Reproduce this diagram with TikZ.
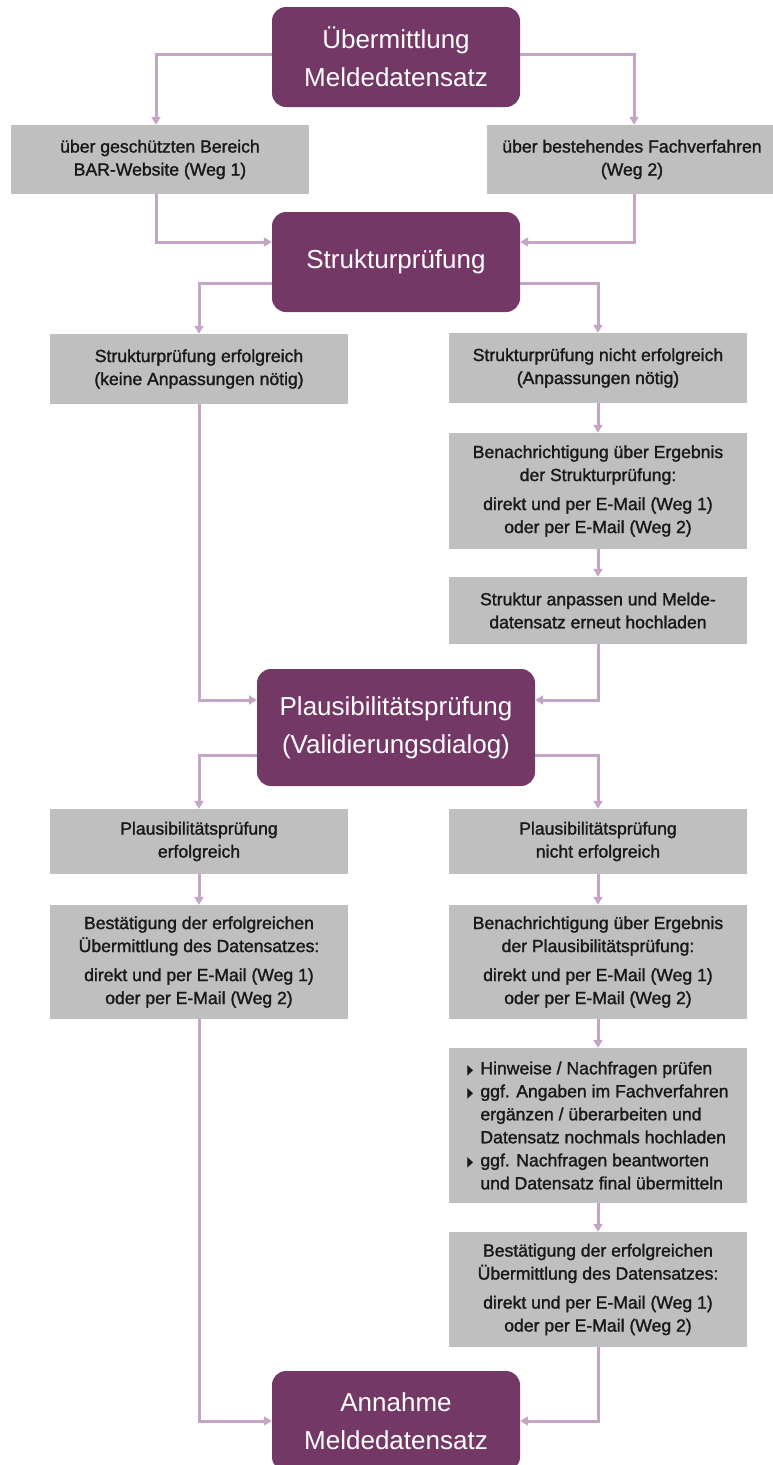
\documentclass[tikz,border=0pt]{standalone}
\usepackage{fontspec}
\usepackage{graphicx}
\setmainfont{Liberation Sans}
\newfontfamily\medf{Liberation Sans}[FakeBold=1.5]
\newfontfamily\symf{DejaVu Sans}
\usetikzlibrary{arrows.meta,calc}
\definecolor{purp}{RGB}{116,56,102}
\definecolor{grayb}{RGB}{191,191,191}
\definecolor{lineC}{RGB}{196,166,196}
\newcommand{\tri}{\makebox[13pt][l]{\scalebox{0.55}[1]{\symf\fontsize{14}{10}\selectfont ▶}}}
\newcommand{\ind}{\hspace*{13pt}}
\tikzset{
  pbox/.style={fill=purp, rounded corners=14pt, text=white, align=center, inner sep=0pt,
    font=\fontsize{26}{38}\selectfont, minimum width=248pt, minimum height=100pt},
  gbox/.style={fill=grayb, text=black!90, align=center, inner sep=0pt,
    font=\medf\fontsize{17.6}{23}\selectfont, minimum width=298pt},
  conn/.style={draw=lineC, line width=3pt, -{Triangle[length=8pt,width=9pt]}}
}
\begin{document}
\begin{tikzpicture}[x=1pt,y=-1pt]
\useasboundingbox (0,0) rectangle (773,1465);
\clip (0,0) rectangle (773,1465);
% purple nodes
\node[pbox] (top) at (396,57) {Übermittlung\\Meldedatensatz};
\node[pbox] (struk) at (396,262) {Strukturprüfung};
\node[pbox, minimum width=278pt, minimum height=117pt] (plaus) at (396,727.5) {Plausibilitätsprüfung\\(Validierungsdialog)};
\node[pbox, minimum height=100pt] (final) at (396,1421) {Annahme\\Meldedatensatz};
% gray nodes
\node[gbox, minimum height=69pt] (b1) at (160,159.5) {über geschützten Bereich\\BAR-Website (Weg 1)};
\node[gbox, minimum width=290pt, minimum height=69pt] (b2) at (632,159.5) {über bestehendes Fachverfahren\\(Weg 2)};
\node[gbox, minimum height=70pt] (sl) at (199,369) {Strukturprüfung erfolgreich\\(keine Anpassungen nötig)};
\node[gbox, minimum height=70pt] (sr) at (598,368) {Strukturprüfung nicht erfolgreich\\(Anpassungen nötig)};
\node[gbox, minimum height=116pt] (bn1) at (598,491) {Benachrichtigung über Ergebnis\\der Strukturprüfung:\\[6pt]direkt und per E-Mail (Weg 1)\\oder per E-Mail (Weg 2)};
\node[gbox, minimum height=67pt] (sa) at (598,610.5) {Struktur anpassen und Melde-\\datensatz erneut hochladen};
\node[gbox, minimum height=65pt] (pl) at (199,841.5) {Plausibilitätsprüfung\\erfolgreich};
\node[gbox, minimum height=65pt] (pr) at (598,841.5) {Plausibilitätsprüfung\\nicht erfolgreich};
\node[gbox, minimum height=114pt] (bl) at (199,962) {Bestätigung der erfolgreichen\\Übermittlung des Datensatzes:\\[6pt]direkt und per E-Mail (Weg 1)\\oder per E-Mail (Weg 2)};
\node[gbox, minimum height=114pt] (bn2) at (598,962) {Benachrichtigung über Ergebnis\\der Plausibilitätsprüfung:\\[6pt]direkt und per E-Mail (Weg 1)\\oder per E-Mail (Weg 2)};
\node[gbox, minimum height=155pt, align=left] (hw) at (598,1125.5) {\tri Hinweise / Nachfragen prüfen\\\tri ggf. Angaben im Fachverfahren\\\ind ergänzen / überarbeiten und\\\ind Datensatz nochmals hochladen\\\tri ggf. Nachfragen beantworten\\\ind und Datensatz final übermitteln};
\node[gbox, minimum height=115pt] (br) at (598,1289.5) {Bestätigung der erfolgreichen\\Übermittlung des Datensatzes:\\[6pt]direkt und per E-Mail (Weg 1)\\oder per E-Mail (Weg 2)};
% connectors
\draw[conn] ([yshift=3pt]top.west) -| ([xshift=-4pt]b1.north);
\draw[conn] ([yshift=3pt]top.east) -| ([xshift=2pt]b2.north);
\draw[conn] ([xshift=-4pt]b1.south) |- ([yshift=20pt]struk.west);
\draw[conn] ([xshift=2pt]b2.south) |- ([yshift=20pt]struk.east);
\draw[conn] ([yshift=-21pt]struk.west) -| (sl.north);
\draw[conn] ([yshift=-21pt]struk.east) -| (sr.north);
\draw[conn] (sr) -- (bn1);
\draw[conn] (bn1) -- (sa);
\draw[conn] (sl.south) |- ([yshift=27.5pt]plaus.west);
\draw[conn] (sa.south) |- ([yshift=27.5pt]plaus.east);
\draw[conn] ([yshift=-27.5pt]plaus.west) -| (pl.north);
\draw[conn] ([yshift=-27.5pt]plaus.east) -| (pr.north);
\draw[conn] (pl) -- (bl);
\draw[conn] (pr) -- (bn2);
\draw[conn] (bn2) -- (hw);
\draw[conn] (hw) -- (br);
\draw[conn] (bl.south) |- (final.west);
\draw[conn] (br.south) |- (final.east);
\end{tikzpicture}
\end{document}
